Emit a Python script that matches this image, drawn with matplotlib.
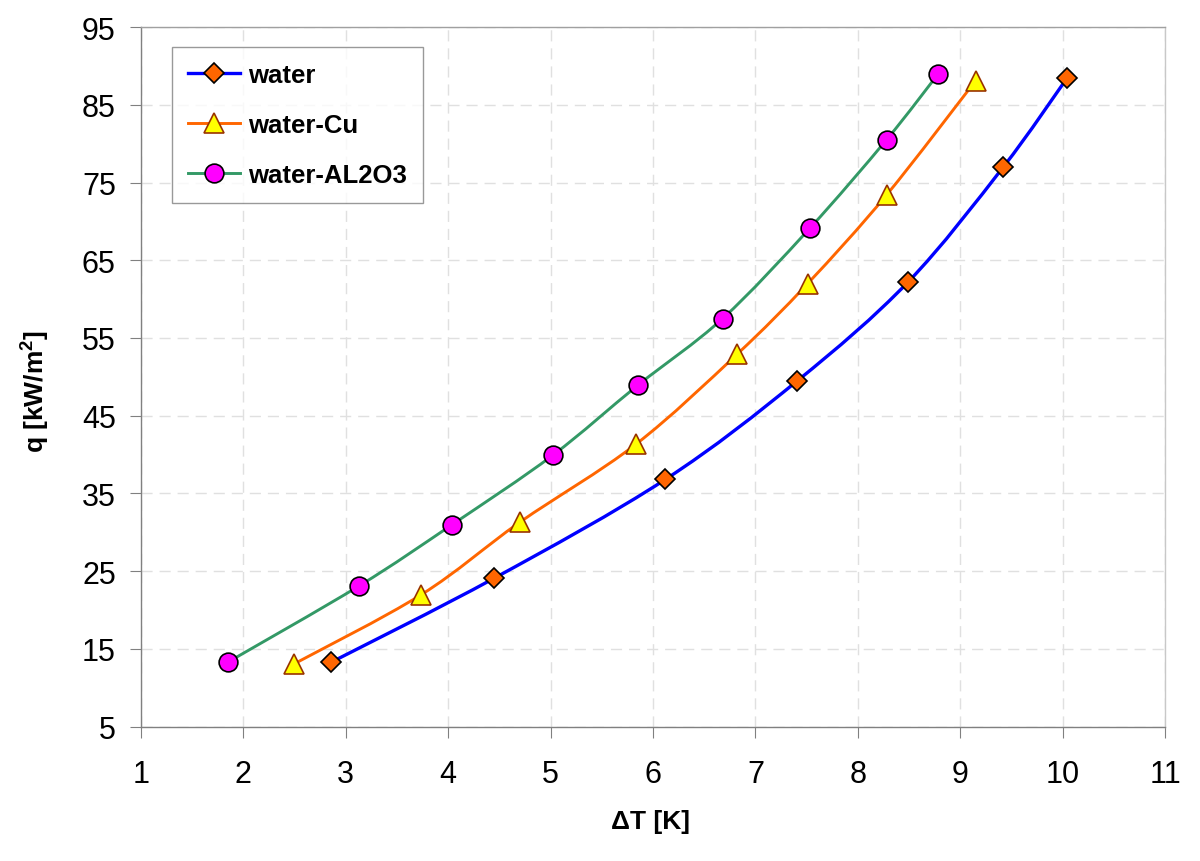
import numpy as np
import matplotlib
matplotlib.use("Agg")
import matplotlib.pyplot as plt
from matplotlib.path import Path
from matplotlib.patches import PathPatch
from matplotlib.lines import Line2D

plt.rcParams["font.family"] = ["Liberation Sans", "DejaVu Sans"]
plt.rcParams["mathtext.fontset"] = "custom"
plt.rcParams["mathtext.rm"] = "Liberation Sans"
plt.rcParams["mathtext.bf"] = "Liberation Sans:bold"

# ---- data ----
water_dT = [2.86, 4.45, 6.12, 7.41, 8.49, 9.42, 10.04]
water_q = [13.3, 24.1, 36.8, 49.5, 62.2, 77.0, 88.4]

cu_dT = [2.50, 3.74, 4.70, 5.83, 6.82, 7.51, 8.28, 9.15]
cu_q = [13.1, 22.0, 31.3, 41.3, 52.9, 62.0, 73.4, 88.1]

al_dT = [1.85, 3.13, 4.04, 5.02, 5.85, 6.68, 7.53, 8.28, 8.78]
al_q = [13.3, 23.1, 31.0, 39.9, 48.9, 57.5, 69.1, 80.5, 88.9]

labels = ["water", "water-Cu", "water-AL2O3"]
x_ticks = list(range(1, 12))
y_ticks = list(range(5, 96, 10))


def smooth_path(x, y):
    # Catmull-Rom style bezier, like a spreadsheet "smoothed line"
    p = np.column_stack([x, y]).astype(float)
    verts = [p[0]]
    codes = [Path.MOVETO]
    n = len(p)
    for i in range(n - 1):
        p0 = p[i - 1] if i > 0 else p[i]
        p3 = p[i + 2] if i + 2 < n else p[i + 1]
        c1 = p[i] + (p[i + 1] - p0) / 6.0
        c2 = p[i + 1] - (p3 - p[i]) / 6.0
        verts += [c1, c2, p[i + 1]]
        codes += [Path.CURVE4] * 3
    return Path(verts, codes)


series = [
    (water_dT, water_q, "#0000FF", 2.4, "D", 10.5, "#FF6600", "#000000"),
    (cu_dT, cu_q, "#FF6600", 2.1, "^", 14, "#FFFF00", "#993300"),
    (al_dT, al_q, "#339966", 2.1, "o", 13.5, "#FF00FF", "#000000"),
]

fig = plt.figure(figsize=(12, 8.62), dpi=100)
ax = fig.add_axes([0.1173, 0.1558, 0.8537, 0.8117])

handles = []
for (x, y, lc, lw, mk, ms, mfc, mec), lab in zip(series, labels):
    ax.add_patch(PathPatch(smooth_path(x, y), fill=False, edgecolor=lc,
                           linewidth=lw, zorder=3, capstyle="round"))
    ax.plot(x, y, linestyle="none", marker=mk, markersize=ms,
            markerfacecolor=mfc, markeredgecolor=mec, markeredgewidth=1.2,
            zorder=4)
    handles.append(Line2D([], [], color=lc, linewidth=lw, marker=mk,
                          markersize=ms, markerfacecolor=mfc,
                          markeredgecolor=mec, markeredgewidth=1.2))

ax.set_xlim(1, 11)
ax.set_ylim(5, 95)
ax.set_xticks(x_ticks)
ax.set_yticks(y_ticks)
ax.tick_params(axis="both", labelsize=22, color="#808080", length=8,
               direction="out")
ax.tick_params(axis="y", pad=10)
ax.tick_params(axis="x", pad=15)

ax.grid(True, color="#E0E0E0", linestyle=(0, (8, 5)), linewidth=1.0)
ax.set_axisbelow(True)
ax.spines["left"].set_color("#808080")
ax.spines["bottom"].set_color("#808080")
ax.spines["top"].set_color("#A0A0A0")
ax.spines["right"].set_color("#C8C8C8")
for s in ax.spines.values():
    s.set_linewidth(1.0)

ax.set_xlabel("ΔT [K]", fontsize=19, fontweight="bold")
ax.set_ylabel(r"q [kW/m$^\mathbf{2}$]", fontsize=19, fontweight="bold")
ax.xaxis.set_label_coords(0.498, -0.118)
ax.yaxis.set_label_coords(-0.088, 0.48)

leg = ax.legend(handles, labels, loc="upper left",
                bbox_to_anchor=(0.0303, 0.971), borderaxespad=0,
                prop={"size": 18.5, "weight": "bold"}, frameon=True,
                fancybox=False, edgecolor="#808080", handlelength=2.05,
                handletextpad=0.3, labelspacing=1.0, borderpad=0.62,
                numpoints=1)
leg.get_frame().set_linewidth(1.0)

fig.savefig("out.png", dpi=100)
